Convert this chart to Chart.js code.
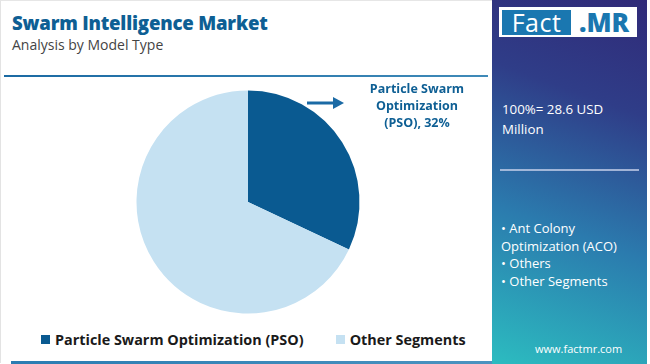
<!DOCTYPE html>
<html>
<head>
<meta charset="utf-8">
<script src="https://cdn.jsdelivr.net/npm/chart.js@4.4.0/dist/chart.umd.min.js"></script>
<style>
    body { margin: 0; width: 650px; height: 364px; overflow: hidden; background: #fff; font-family: 'Open Sans', sans-serif; }
    .abs { position: absolute; }
    #title { left: 12px; top: 10px; font-size: 18.6px; font-weight: 800; color: #0e5f94; letter-spacing: -0.2px; white-space: nowrap; }
    #subtitle { left: 12px; top: 35px; font-size: 14px; color: #444; white-space: nowrap; }
    #hline { left: 4px; top: 75px; width: 484px; height: 2px; background: linear-gradient(90deg, #1b6aa3, #3f8ab8); }
    #bline { left: 11px; top: 361px; width: 481px; height: 3px; background: linear-gradient(90deg, #2a7cb2, #4b93c0); }
    #frame { left: 0; top: 0; width: 491px; height: 362px; border-left: 1px solid #e3e3e3; border-top: 1px solid #e6e6e6; }
    #chartBox { left: 0; top: 80px; width: 492px; height: 244px; }
    #note { left: 350px; top: 80px; width: 134px; text-align: center; font-size: 12.5px; font-weight: 700; color: #0e5f94; line-height: 17px; }
    #legend { left: 41px; top: 330px; display: flex; align-items: center; font-size: 14.4px; font-weight: 700; color: #1a1a1a; white-space: nowrap; }
    #legend .item { display: flex; align-items: center; margin-right: 32px; }
    #legend .sw { width: 9px; height: 9px; margin-right: 5px; }
    #panel { left: 492px; top: 0; width: 155px; height: 364px; background: linear-gradient(200deg, #302a78 0%, #2f3d88 28%, #2b7bae 62%, #2cbcc0 100%); }
    #logo { left: 499px; top: 7px; width: 138px; height: 30px; background: #fff; }
    #logoFact { left: 502px; top: 10px; width: 69px; height: 25px; background: #1a77b0; color: #fff; font-size: 25px; line-height: 25px; text-align: center; letter-spacing: 0.5px; }
    #logoMR { left: 573px; top: 10px; width: 62px; height: 25px; color: #1a77b0; font-size: 26px; font-weight: 800; line-height: 25px; text-align: center; }
    #total { left: 502px; top: 99px; font-size: 13.3px; color: #fff; line-height: 20px; width: 140px; }
    #pline { left: 500px; top: 169px; width: 139px; height: 2px; background: rgba(200, 210, 235, 0.75); }
    #others { left: 501px; top: 220px; font-size: 13px; color: #fff; line-height: 17.7px; width: 145px; }
    #site { left: 535px; top: 341px; font-size: 11px; color: #fff; }
</style>
</head>
<body>
<div id="frame" class="abs"></div>
<div id="title" class="abs">Swarm Intelligence Market</div>
<div id="subtitle" class="abs">Analysis by Model Type</div>
<div id="hline" class="abs"></div>
<div id="chartBox" class="abs"><canvas id="pieChart"></canvas></div>
<div id="note" class="abs"></div>
<div id="legend" class="abs"></div>
<div id="bline" class="abs"></div>

<div id="panel" class="abs"></div>
<div id="logo" class="abs"></div>
<div id="logoFact" class="abs">Fact</div>
<div id="logoMR" class="abs">.MR</div>
<div id="total" class="abs">100%= 28.6 USD Million</div>
<div id="pline" class="abs"></div>
<div id="others" class="abs"></div>
<div id="site" class="abs">www.factmr.com</div>

<script>
const segments = ['Particle Swarm Optimization (PSO)', 'Other Segments'];
const shares = [32, 68];
const colors = ['#0a5a91', '#c5e1f2'];
const otherModels = ['Ant Colony Optimization (ACO)', 'Others', 'Other Segments'];

// legend bawah
const legend = document.getElementById('legend');
segments.forEach((name, i) => {
    const item = document.createElement('div');
    item.className = 'item';
    item.innerHTML = '<span class="sw" style="background:' + colors[i] + '"></span>' + name;
    legend.appendChild(item);
});

// label anotasi untuk segmen PSO
document.getElementById('note').innerHTML =
    'Particle Swarm<br>Optimization<br>(PSO), ' + shares[0] + '%';

document.getElementById('others').innerHTML =
    otherModels.map(m => '• ' + m).join('<br>');

// panah kecil di samping label
const arrowPlugin = {
    id: 'arrow',
    afterDraw(chart) {
        const ctx = chart.ctx;
        const y = 23;
        ctx.save();
        ctx.strokeStyle = '#1b6aa5';
        ctx.fillStyle = '#1b6aa5';
        ctx.lineWidth = 3;
        ctx.beginPath();
        ctx.moveTo(307, y);
        ctx.lineTo(335, y);
        ctx.stroke();
        ctx.beginPath();
        ctx.moveTo(333, y - 6);
        ctx.lineTo(344, y);
        ctx.lineTo(333, y + 6);
        ctx.closePath();
        ctx.fill();
        ctx.restore();
    }
};

const pieCtx = document.getElementById('pieChart').getContext('2d');
const pieChart = new Chart(pieCtx, {
    type: 'pie',
    data: {
        labels: segments,
        datasets: [{
            data: shares,
            backgroundColor: colors,
            borderWidth: 0
        }]
    },
    options: {
        responsive: true,
        maintainAspectRatio: false,
        animation: false,
        layout: {
            padding: { left: 136.5, right: 132.5, top: 10.5, bottom: 10.5 }
        },
        plugins: {
            legend: { display: false },
            tooltip: { enabled: false }
        }
    },
    plugins: [arrowPlugin]
});
</script>
</body>
</html>
